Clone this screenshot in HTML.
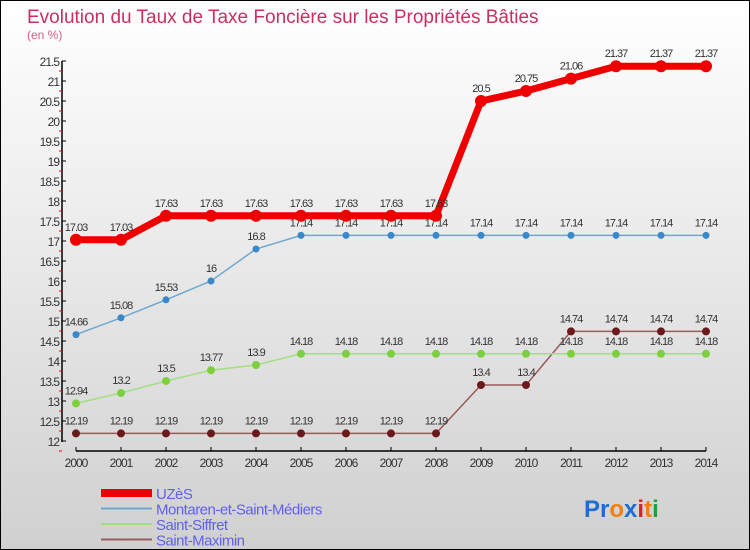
<!DOCTYPE html>
<html><head><meta charset="utf-8"><style>
body{margin:0}
#wrap{position:relative;width:748px;height:548px;border:1px solid #000;background:linear-gradient(#fff,#d0d0d0);font-family:"Liberation Sans",sans-serif;overflow:hidden}
</style></head><body>
<div id="wrap">
<svg id="svg" width="748" height="548">
<text x="26" y="22" font-size="19" fill="#c8305f">Evolution du Taux de Taxe Foncière sur les Propriétés Bâties</text>
<text x="26" y="38" font-size="12" fill="#d06080">(en %)</text>
<g id="g"></g>
<text x="583" y="516" font-size="24" font-weight="bold"><tspan fill="#1a6fd0">Pr</tspan><tspan fill="#f08010">o</tspan><tspan fill="#1a6fd0">x</tspan><tspan fill="#e02020">i</tspan><tspan fill="#f08010">t</tspan><tspan fill="#20a040">i</tspan></text>
</svg>
</div>
<script>
const years=["2000","2001","2002","2003","2004","2005","2006","2007","2008","2009","2010","2011","2012","2013","2014"];
const uzes=[17.03,17.03,17.63,17.63,17.63,17.63,17.63,17.63,17.63,20.5,20.75,21.06,21.37,21.37,21.37];
const montaren=[14.66,15.08,15.53,16,16.8,17.14,17.14,17.14,17.14,17.14,17.14,17.14,17.14,17.14,17.14];
const siffret=[12.94,13.2,13.5,13.77,13.9,14.18,14.18,14.18,14.18,14.18,14.18,14.18,14.18,14.18,14.18];
const maximin=[12.19,12.19,12.19,12.19,12.19,12.19,12.19,12.19,12.19,13.4,13.4,14.74,14.74,14.74,14.74];
const yTicks=[12,12.5,13,13.5,14,14.5,15,15.5,16,16.5,17,17.5,18,18.5,19,19.5,20,20.5,21,21.5];
const NS="http://www.w3.org/2000/svg";
const g=document.getElementById('g');
const X=i=>75+i*45, Y=v=>440-(v-12)*40;
function el(t,a,p){const e=document.createElementNS(NS,t);for(const k in a)e.setAttribute(k,a[k]);(p||g).appendChild(e);return e;}
el('line',{x1:61,y1:60,x2:61,y2:441,stroke:'#000','stroke-width':1.5});
el('line',{x1:75,y1:450,x2:705,y2:450,stroke:'#000','stroke-width':1.5});
yTicks.forEach(v=>{
 el('line',{x1:61,y1:Y(v),x2:65,y2:Y(v),stroke:'#000'});
 el('line',{x1:58,y1:Y(v)+10,x2:61,y2:Y(v)+10,stroke:'#e00'});
 const t=el('text',{x:58,y:Y(v)+5,'font-size':12,'text-anchor':'end',fill:'#333','letter-spacing':'-1'});t.textContent=String(v);
 
 
});
years.forEach((y,i)=>{
 el('line',{x1:X(i),y1:446,x2:X(i),y2:450,stroke:'#000'});
 const t=el('text',{x:X(i),y:466,'font-size':12,'text-anchor':'middle',fill:'#333','letter-spacing':'-1'});t.textContent=y;
 
 
});
function series(d,name,color,dot,w,r){
 const s=el('g',{});
 
 
 el('polyline',{points:d.map((v,i)=>X(i)+','+Y(v)).join(' '),fill:'none',stroke:color,'stroke-width':w},s);
 d.forEach((v,i)=>{
  const c=el('circle',{cx:X(i),cy:Y(v),r:r,fill:dot},s);
  
  
  const t=el('text',{x:X(i),y:Y(v)-9,'font-size':11,'text-anchor':'middle',fill:'#333','letter-spacing':'-1'},s);t.textContent=String(v);
 });
}
series(maximin,'saint-maximin-series','#9a5a5a','#6a1a1a',1.5,4);
series(siffret,'saint-siffret-series','#a0e080','#7cd040',1.5,4);
series(montaren,'montaren-series','#70a8d0','#3a88c8',1.5,3.5);
series(uzes,'uzes-series','#ee0000','#ee0000',7,6);
const leg=[["UZèS","#ee0000",8],["Montaren-et-Saint-Médiers","#70a8d0",2],["Saint-Siffret","#a0e080",2],["Saint-Maximin","#9a5a5a",2]];
leg.forEach((l,i)=>{
 const y=492+i*15.5;
 const lg=el('g',{});
 
 
 el('line',{x1:100,y1:y,x2:151,y2:y,stroke:l[1],'stroke-width':l[2]},lg);
 const t=el('text',{x:155,y:y+6,'font-size':15,fill:'#6060ee','letter-spacing':'-0.5'},lg);t.textContent=l[0];
});
</script>
</body></html>
